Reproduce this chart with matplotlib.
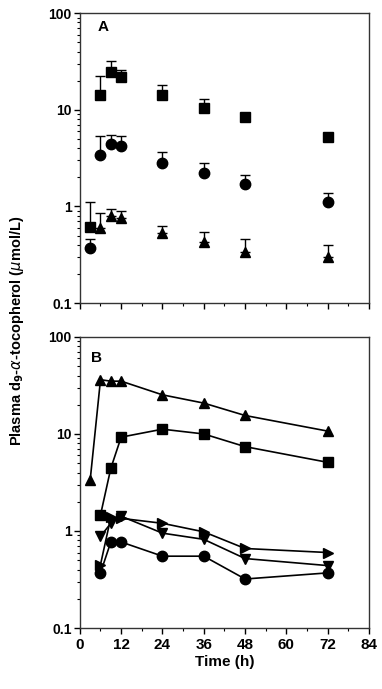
import matplotlib.pyplot as plt
import numpy as np
from matplotlib.ticker import LogLocator, FixedLocator, NullFormatter, FuncFormatter

plt.rcParams['font.family'] = ['Liberation Sans', 'DejaVu Sans']

# Panel A: mean values with upper SD bars
tA_sq = [3, 6, 9, 12, 24, 36, 48, 72]
sqA = [0.62, 14.3, 24.3, 21.8, 14.3, 10.4, 8.4, 5.2]
sqA_top = [1.1, 22.5, 31.6, 26.0, 18.1, 12.9, 8.4, 5.2]

tA_ci = [3, 6, 9, 12, 24, 36, 48, 72]
ciA = [0.37, 3.37, 4.4, 4.25, 2.8, 2.2, 1.71, 1.1]
ciA_top = [0.46, 5.3, 5.5, 5.3, 3.68, 2.8, 2.14, 1.37]

tA_tr = [6, 9, 12, 24, 36, 48, 72]
trA = [0.6, 0.79, 0.76, 0.53, 0.43, 0.34, 0.3]
trA_top = [0.85, 0.94, 0.9, 0.63, 0.54, 0.46, 0.4]

# Panel B: individual subjects
tB_up = [3, 6, 9, 12, 24, 36, 48, 72]
upB = [3.34, 36.2, 35, 35, 25.3, 20.8, 15.5, 10.7]
tB_sq = [6, 9, 12, 24, 36, 48, 72]
sqB = [1.46, 4.43, 9.27, 11.2, 10.0, 7.4, 5.1]
tB_rt = [6, 9, 12, 24, 36, 48, 72]
rtB = [0.45, 1.38, 1.35, 1.2, 0.98, 0.66, 0.6]
tB_dn = [6, 9, 12, 24, 36, 48, 72]
dnB = [0.88, 1.2, 1.42, 0.95, 0.82, 0.52, 0.44]
tB_ci = [6, 9, 12, 24, 36, 48, 72]
ciB = [0.37, 0.77, 0.77, 0.55, 0.55, 0.32, 0.37]

xticks = [0, 12, 24, 36, 48, 60, 72, 84]

fig = plt.figure(figsize=(3.82, 6.89), dpi=100)
axA = fig.add_axes([0.209, 0.560, 0.757, 0.421])
axB = fig.add_axes([0.209, 0.0885, 0.757, 0.4225])


def style(ax, labels):
    ax.set_yscale('log')
    ax.set_ylim(0.1, 100)
    ax.set_xlim(0, 84)
    ax.set_xticks(xticks)
    ax.xaxis.set_minor_locator(FixedLocator(np.arange(6, 84, 12)))
    ax.yaxis.set_major_locator(FixedLocator([0.1, 1, 10, 100]))
    ax.yaxis.set_minor_locator(LogLocator(base=10, subs=np.arange(2, 10)))
    ax.yaxis.set_minor_formatter(NullFormatter())
    ax.yaxis.set_major_formatter(FuncFormatter(lambda v, p: '%g' % v))
    ax.tick_params(which='both', direction='out', top=False, right=False)
    ax.tick_params(which='major', length=4, width=1)
    ax.tick_params(which='minor', length=2.5, width=0.8)
    ax.tick_params(axis='y', labelsize=10, pad=2)
    ax.tick_params(axis='x', labelsize=11)
    for lab in ax.get_yticklabels() + ax.get_xticklabels():
        lab.set_fontweight('bold')
    if not labels:
        ax.set_xticklabels([])
    for s in ax.spines.values():
        s.set_linewidth(1.0)
        s.set_color('#333333')


ms = 7.5
for t, v, top, m in [(tA_sq, sqA, sqA_top, 's'), (tA_ci, ciA, ciA_top, 'o'),
                     (tA_tr, trA, trA_top, '^')]:
    v = np.array(v)
    up = np.array(top) - v
    axA.errorbar(t, v, yerr=[np.zeros_like(v), up], fmt=m, color='black',
                 ms=ms, capsize=3.5, elinewidth=1, capthick=1, ls='none')
style(axA, False)
axA.text(0.06, 0.975, 'A', transform=axA.transAxes, fontsize=11,
         fontweight='bold', va='top')

for t, v, m in [(tB_up, upB, '^'), (tB_sq, sqB, 's'), (tB_rt, rtB, '>'),
                (tB_dn, dnB, 'v'), (tB_ci, ciB, 'o')]:
    axB.plot(t, v, marker=m, color='black', ms=ms, lw=1.2)
style(axB, True)
axB.text(0.04, 0.95, 'B', transform=axB.transAxes, fontsize=11,
         fontweight='bold', va='top')
axB.set_xlabel('Time (h)', fontsize=11, fontweight='bold', labelpad=2)

fig.text(0.045, 0.52, r'Plasma d$_\mathbf{9}$-$\alpha$-tocopherol ($\mu$mol/L)',
         rotation=90, va='center', ha='center', fontsize=10.5,
         fontweight='bold')

fig.savefig('out.png', dpi=100)
